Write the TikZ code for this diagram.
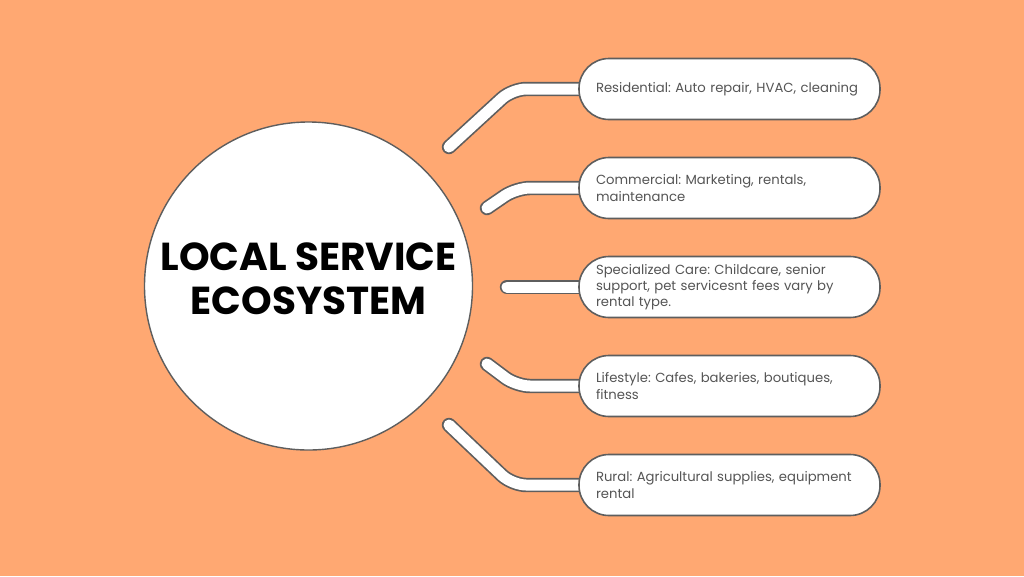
\documentclass[tikz,border=0pt]{standalone}
\usepackage{fontspec}
\setmainfont{Poppins}
\usetikzlibrary{positioning, backgrounds}

\definecolor{fundo}{HTML}{FFA872}
\definecolor{borda}{HTML}{5E5E5E}
\definecolor{texto}{HTML}{555555}
\frenchspacing

\begin{document}
\hyphenpenalty=10000
\begin{tikzpicture}[x=1pt, y=-1pt, node distance=99pt, on grid,
    hub/.style={circle, draw=borda, line width=1.4pt, fill=white, minimum size=328pt, inner sep=0pt},
    title/.style={font=\fontsize{39}{44}\selectfont\bfseries, align=center, text=black},
    box/.style={rectangle, rounded corners=30pt, draw=borda, line width=1.6pt, fill=white,
        minimum width=301pt, minimum height=61pt, inner xsep=17pt, text width=267pt,
        align=left, text=texto, font=\fontsize{13.2}{16.2}\selectfont},
    pipe/.style={draw=borda, line width=1.7pt, double=white, double distance=11pt,
        line cap=round, rounded corners=14pt} ]
    \useasboundingbox (0,0) rectangle (1024,576);

    \node[hub]                      (H) at (308.5,286)     { };
    \node[title]                    (T) at ([yshift=7pt]H.center) {LOCAL SERVICE\\ECOSYSTEM};

    \node[box]                      (C) at (729.5,287) {Specialized Care: Childcare, senior\\support, pet servicesnt fees vary by\\rental type.};
    \node[box]                      (B) [above of=C]   {Commercial: Marketing, rentals,\\maintenance};
    \node[box]                      (A) [above of=B]   {Residential: Auto repair, HVAC, cleaning};
    \node[box]                      (D) [below of=C]   {Lifestyle: Cafes, bakeries, boutiques,\\fitness};
    \node[box]                      (E) [below of=D]   {Rural: Agricultural supplies, equipment\\rental};

    %Pontas soltas das ligações:
    \coordinate (a) at (449,147);
    \coordinate (b) at (487,208);
    \coordinate (c) at (507,287);
    \coordinate (d) at (487,364);
    \coordinate (e) at (449,425);

    \begin{scope}[on background layer]
        \fill[fundo] (0,0) rectangle (1024,576);
        %Ligações:
        \path[pipe] (a) -- ([xshift=-66pt]A.west) -- (A.center);
        \path[pipe] (b) -- ([xshift=-62pt]B.west) -- (B.center);
        \path[pipe] (c) -- (C.center);
        \path[pipe] (d) -- ([xshift=-62pt]D.west) -- (D.center);
        \path[pipe] (e) -- ([xshift=-66pt]E.west) -- (E.center);
    \end{scope}
\end{tikzpicture}
\end{document}
